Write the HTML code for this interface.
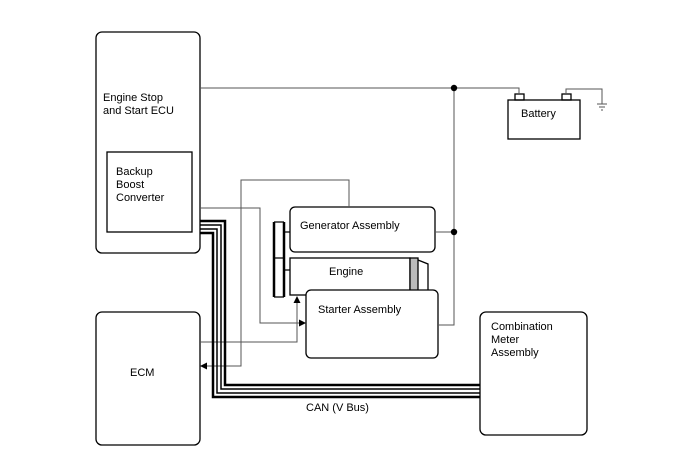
<!DOCTYPE html>
<html><head><style>
body{margin:0;background:#fff;}
svg{display:block;font-family:"Liberation Sans",sans-serif;font-size:11px;}
</style></head><body>
<svg width="688" height="463" viewBox="0 0 688 463">
<g fill="none" stroke="#000" stroke-width="1.3">
<rect x="96" y="32" width="104" height="221" rx="6"/>
<rect x="107" y="152" width="85" height="80"/>
<rect x="96" y="312" width="104" height="133" rx="6"/>
<rect x="480" y="312" width="107" height="123" rx="6"/>
<rect x="290" y="207" width="145" height="45" rx="5"/>
<rect x="290" y="258" width="120" height="37"/>
<rect x="410" y="258" width="8" height="37" fill="#bbb"/>
<path d="M418,260 L428,264 L428,290 L418,294"/>
<rect x="306" y="290" width="132" height="68" rx="5" fill="#fff"/>
<path d="M274,222V297M284,222V297" stroke-width="2.5"/>
<path d="M274,222h10M274,258h10M274,297h10M284,232h6M284,270h6"/>
<rect x="508" y="100" width="72" height="39"/>
<rect x="515" y="94" width="9" height="6"/>
<rect x="562" y="94" width="9" height="6"/>
</g>
<g fill="none" stroke="#555" stroke-width="1">
<path d="M200,88H519V94"/>
<path d="M566,94V89H602V104"/>
<path d="M597,104h10M599,107h6M601,110h2"/>
<path d="M454,88V325H438M435,232H454"/>
<path d="M200,208H260V323H300"/>
<path d="M200,342H297V302"/>
<path d="M349,207V180H241V366H206"/>
</g>
<g fill="#000">
<circle cx="454" cy="88" r="3.2"/><circle cx="454" cy="232" r="3.2"/>
<path d="M306,323l-7,-3.5v7z"/><path d="M297,296l-3.5,7h7z"/><path d="M200,366l7,-3.5v7z"/>
</g>
<g fill="none" stroke="#000">
<path d="M200,221H225V385H480" stroke-width="2.5"/>
<path d="M200,225H221V389H480" stroke-width="1.5"/>
<path d="M200,229H217V393H480" stroke-width="1.5"/>
<path d="M200,233H213V397H480" stroke-width="2.5"/>
</g>
<g fill="#000">
<text x="103" y="101">Engine Stop</text><text x="103" y="114">and Start ECU</text>
<text x="116" y="175">Backup</text><text x="116" y="188">Boost</text><text x="116" y="201">Converter</text>
<text x="130" y="376">ECM</text>
<text x="491" y="330">Combination</text><text x="491" y="343">Meter</text><text x="491" y="356">Assembly</text>
<text x="300" y="229">Generator Assembly</text>
<text x="329" y="275">Engine</text>
<text x="318" y="313">Starter Assembly</text>
<text x="521" y="117">Battery</text>
<text x="306" y="411">CAN (V Bus)</text>
</g>
</svg>
</body></html>
